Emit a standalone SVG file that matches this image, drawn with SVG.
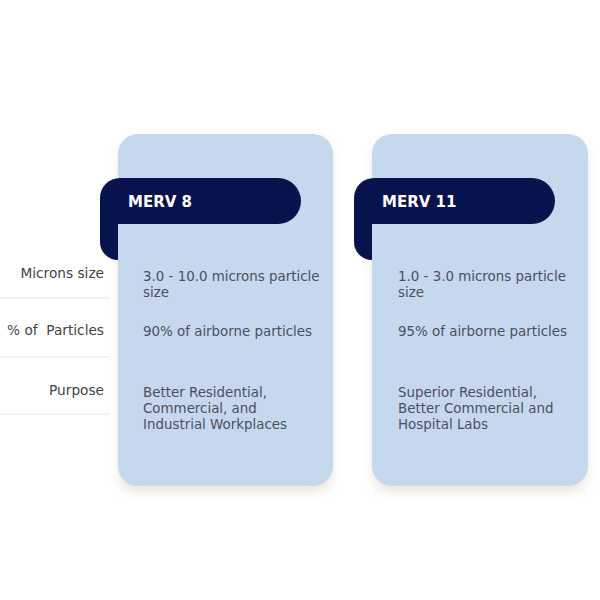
<svg xmlns="http://www.w3.org/2000/svg" width="600" height="600" viewBox="0 0 600 600">
  <defs>
    <filter id="shadow" x="-20%" y="-10%" width="140%" height="130%">
      <feDropShadow dx="0" dy="7" stdDeviation="4" flood-color="#c0ae8c" flood-opacity="0.28"/>
    </filter>
  </defs>
  <style>
    .card { fill: #c6d8ee; }
    .banner { fill: #08134e; }
    .title { font-family: "DejaVu Sans", sans-serif; font-weight: bold; font-size: 15px; fill: #ffffff; }
    .body { font-family: "DejaVu Sans", sans-serif; font-size: 13.4px; fill: #4a4f5c; }
    .label { font-family: "DejaVu Sans", sans-serif; font-size: 13.7px; fill: #444444; text-anchor: end; }
    .sep { stroke: #e6e6e6; stroke-width: 1; }
  </style>
  <rect width="600" height="600" fill="#ffffff"/>

  <g id="row-labels">
    <text class="label" x="104" y="278">Microns size</text>
    <text class="label" x="104" y="335" xml:space="preserve">% of  Particles</text>
    <text class="label" x="104" y="395">Purpose</text>
    <line class="sep" x1="0" y1="298" x2="110" y2="298"/>
    <line class="sep" x1="0" y1="357" x2="110" y2="357"/>
    <line class="sep" x1="0" y1="414" x2="110" y2="414"/>
  </g>

  <g id="merv8">
    <rect class="card" x="118" y="134" width="215" height="352" rx="20" filter="url(#shadow)"/>
    <path class="banner" d="M120,178 H278 A23,23 0 0 1 278,224 H118 V260 A18,18 0 0 1 100,242 V198 A20,20 0 0 1 120,178 Z"/>
    <text class="title" x="128" y="207">MERV 8</text>
    <text class="body" x="143" y="281">3.0 - 10.0 microns particle</text>
    <text class="body" x="143" y="297">size</text>
    <text class="body" x="143" y="336">90% of airborne particles</text>
    <text class="body" x="143" y="397">Better Residential,</text>
    <text class="body" x="143" y="413">Commercial, and</text>
    <text class="body" x="143" y="429">Industrial Workplaces</text>
  </g>

  <g id="merv11">
    <rect class="card" x="372" y="134" width="216" height="352" rx="20" filter="url(#shadow)"/>
    <path class="banner" d="M374,178 H532 A23,23 0 0 1 532,224 H372 V260 A18,18 0 0 1 354,242 V198 A20,20 0 0 1 374,178 Z"/>
    <text class="title" x="382" y="207">MERV 11</text>
    <text class="body" x="398" y="281">1.0 - 3.0 microns particle</text>
    <text class="body" x="398" y="297">size</text>
    <text class="body" x="398" y="336">95% of airborne particles</text>
    <text class="body" x="398" y="397">Superior Residential,</text>
    <text class="body" x="398" y="413">Better Commercial and</text>
    <text class="body" x="398" y="429">Hospital Labs</text>
  </g>
</svg>
